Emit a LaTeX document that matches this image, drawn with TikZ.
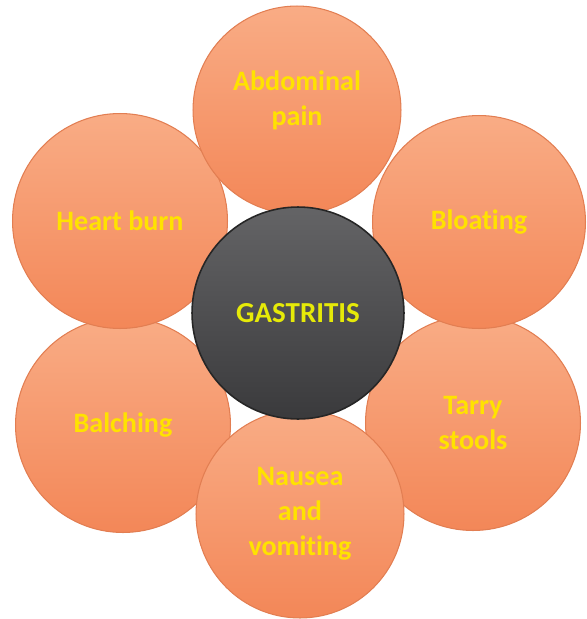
\documentclass[tikz,border=0pt]{standalone}
\usepackage{fontspec}
\setmainfont{Carlito}[Ligatures=CommonOff]
\usepackage{xcolor}
\usepackage{tikz}
\usetikzlibrary{shapes,positioning}

\definecolor{petaltop}{RGB}{249,172,133}
\definecolor{petalbot}{RGB}{243,135,88}
\definecolor{petalline}{RGB}{226,126,82}
\definecolor{coretop}{RGB}{100,100,102}
\definecolor{corebot}{RGB}{58,58,60}
\definecolor{labelyellow}{RGB}{255,226,0}

\begin{document}
\begin{tikzpicture}[
    x=0.02cm, y=-0.02cm,
    petaltext/.style={align=center, text=labelyellow, font=\fontsize{16}{20}\selectfont\bfseries},
    symptom/.style={circle, draw=petalline, line width=0.6pt, top color=petaltop, bottom color=petalbot, minimum size=4.3cm, inner sep=0pt, petaltext},
    core/.style={circle, draw=black!85, line width=0.9pt, top color=coretop, bottom color=corebot, minimum size=4.24cm, inner sep=0pt, align=center, text=yellow!90!green, font=\fontsize{16.5}{20}\selectfont\bfseries}
]
    \useasboundingbox (0,0) rectangle (586,619);

    \node [symptom] (balching) at (123,425) {Balching};
    \node [symptom] (tarry) at (473,423) {Tarry\\stools};
    \node [symptom, minimum size=4.16cm] (nausea) at (300,514) {Nausea\\and\\vomiting};
    \node [symptom] (heartburn) at (120,221) {Heart burn};
    \node [symptom, minimum size=4.26cm] (bloating) at (479,222) {Bloating};
    \node [symptom, minimum size=4.16cm, label={[petaltext, yshift=0.2cm]center:Abdominal\\pain}] (abdominal) at (297,110) {};
    \node [core] (gastritis) at (298,313) {GASTRITIS};
\end{tikzpicture}
\end{document}
